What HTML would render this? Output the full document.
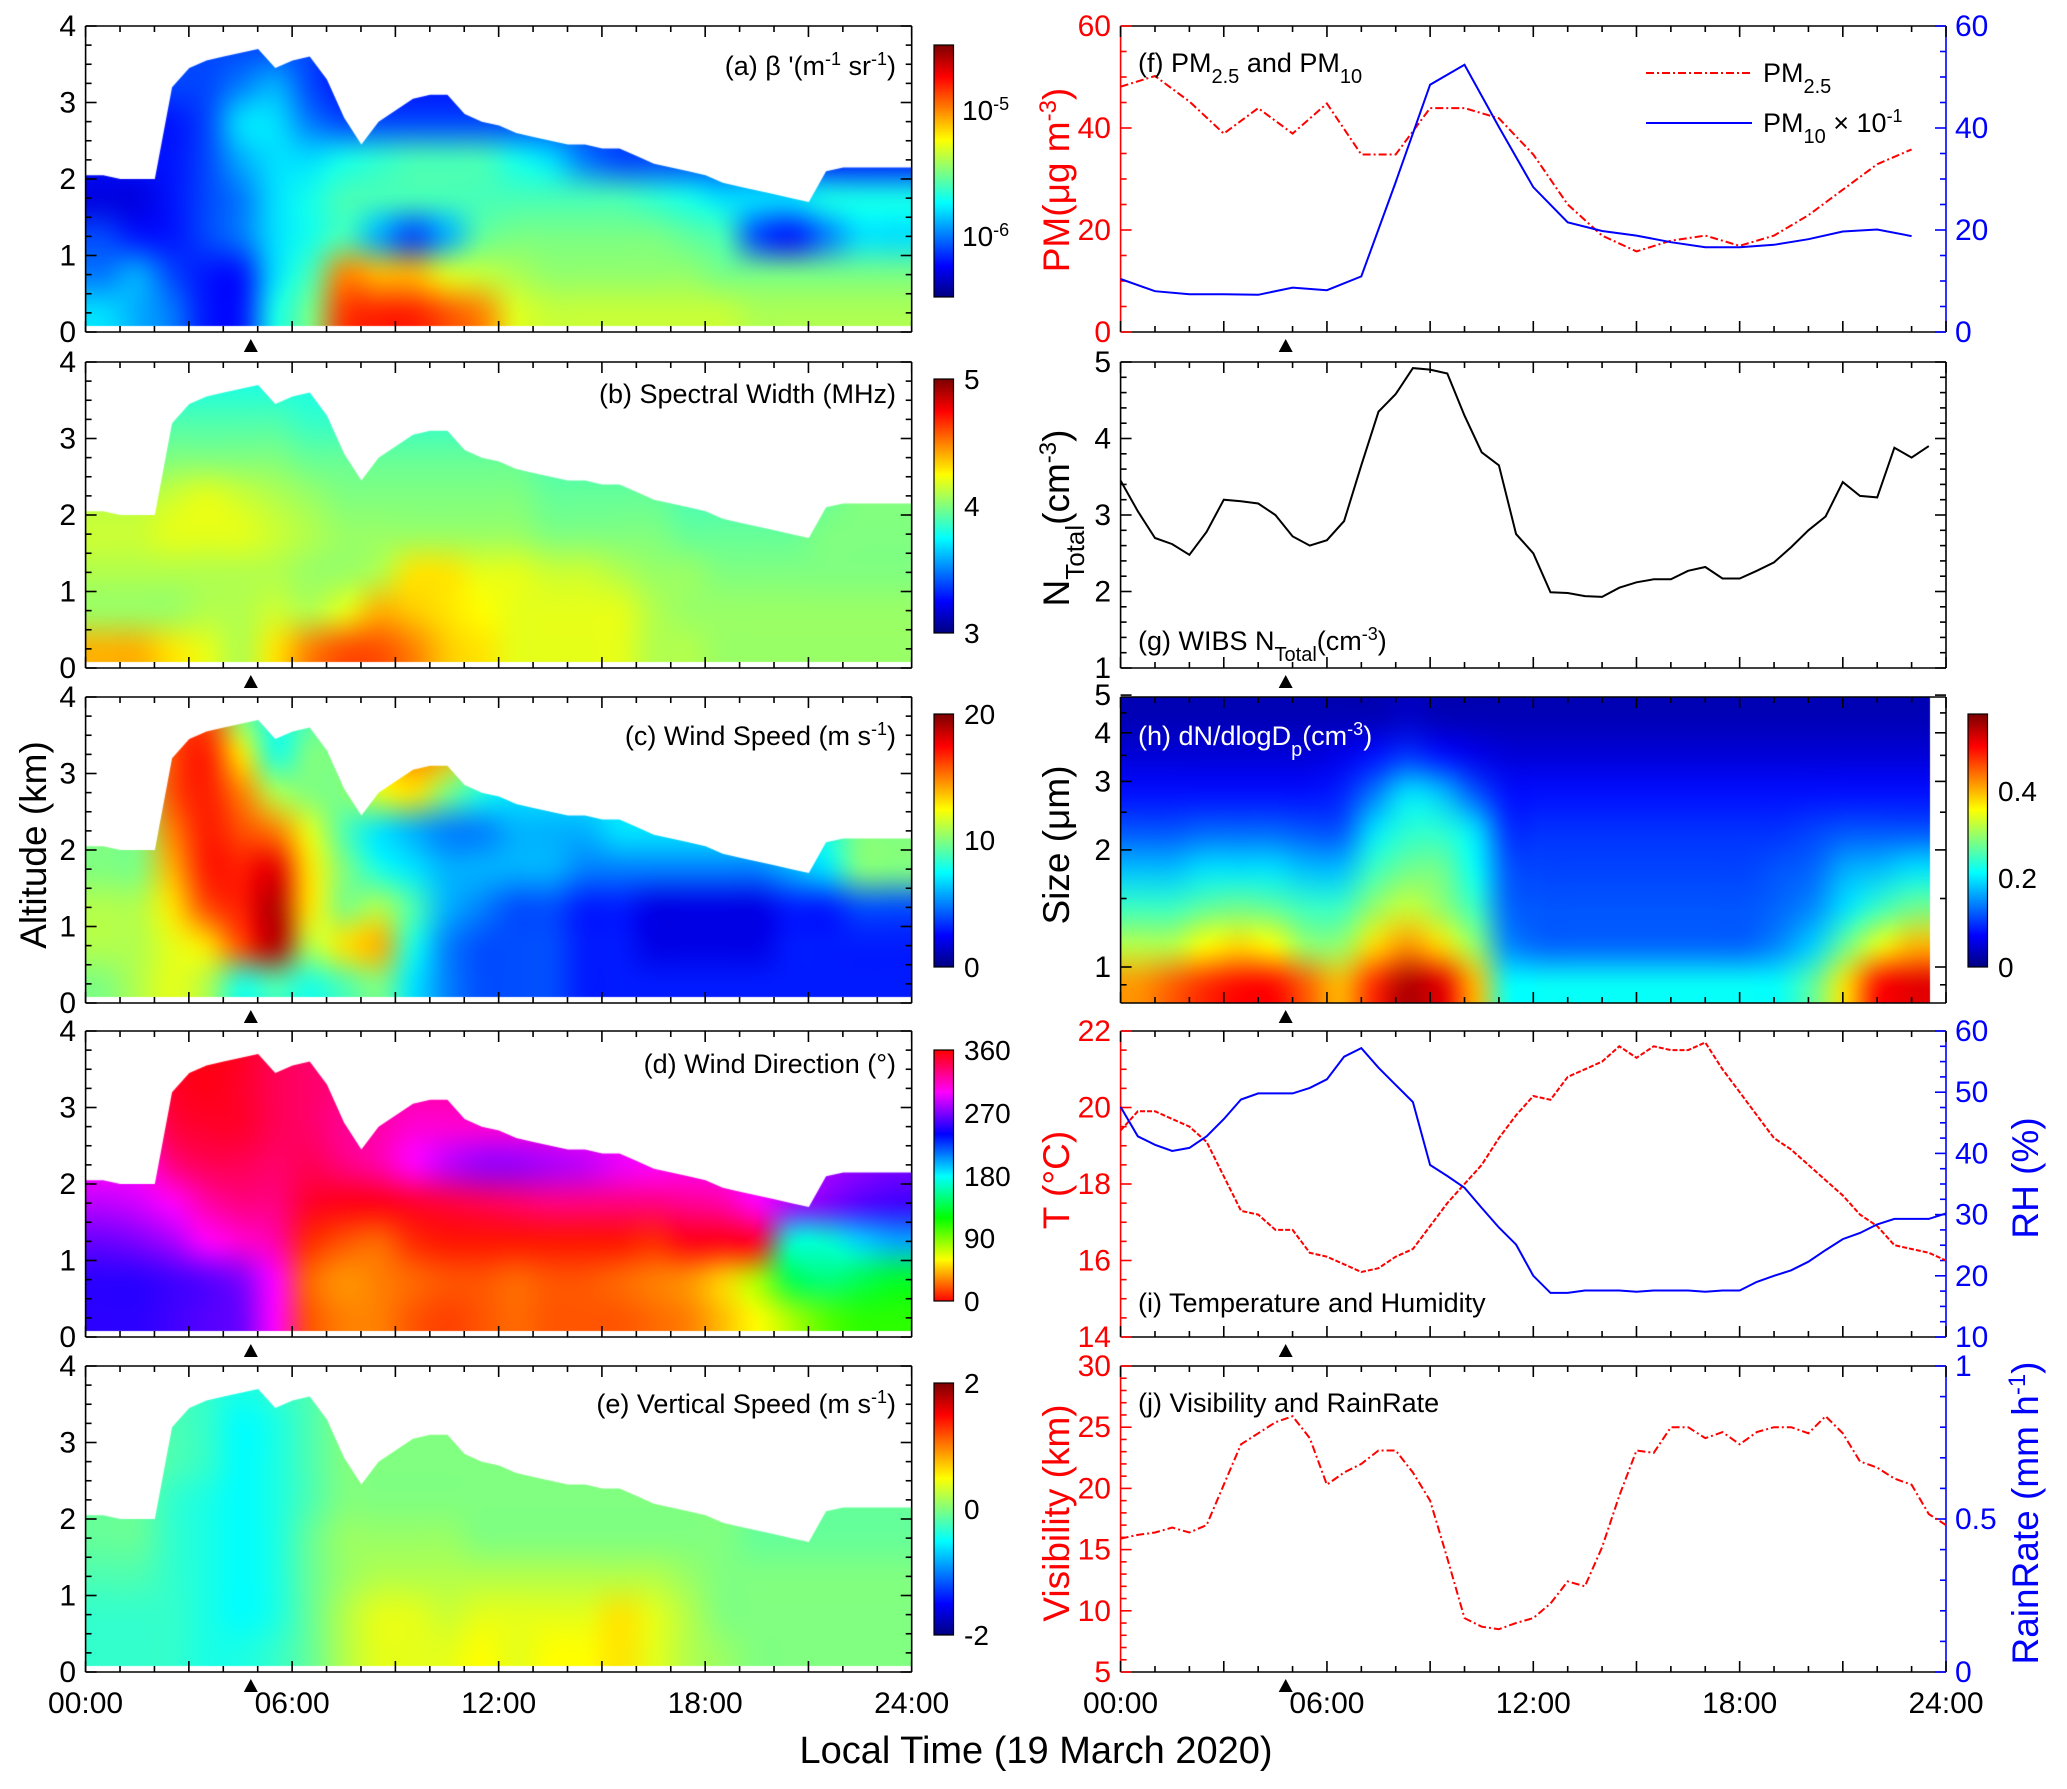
<!DOCTYPE html>
<html><head><meta charset="utf-8"><style>
body{margin:0;width:2067px;height:1789px;background:#fff;position:relative;overflow:hidden;font-family:"Liberation Sans",Arial,sans-serif}
canvas{position:absolute}
svg{position:absolute;left:0;top:0}
text{font-family:"Liberation Sans",Arial,sans-serif}
</style></head><body>
<svg id="ov" width="2067" height="1789">
<g id="marks"></g>
<g font-size="27" fill="#000">
<text x="896" y="75" text-anchor="end">(a) β '(m<tspan baseline-shift="super" font-size="18">-1</tspan> sr<tspan baseline-shift="super" font-size="18">-1</tspan>)</text>
<text x="896" y="403" text-anchor="end">(b) Spectral Width (MHz)</text>
<text x="896" y="745" text-anchor="end">(c) Wind Speed (m s<tspan baseline-shift="super" font-size="18">-1</tspan>)</text>
<text x="896" y="1073" text-anchor="end">(d) Wind Direction (°)</text>
<text x="896" y="1413" text-anchor="end">(e) Vertical Speed (m s<tspan baseline-shift="super" font-size="18">-1</tspan>)</text>
<text x="1138" y="72">(f) PM<tspan baseline-shift="sub" font-size="20">2.5</tspan> and PM<tspan baseline-shift="sub" font-size="20">10</tspan></text>
<text x="1138" y="650">(g) WIBS N<tspan baseline-shift="sub" font-size="20">Total</tspan>(cm<tspan baseline-shift="super" font-size="18">-3</tspan>)</text>
<text x="1138" y="745" fill="#fff">(h) dN/dlogD<tspan baseline-shift="sub" font-size="20">p</tspan>(cm<tspan baseline-shift="super" font-size="18">-3</tspan>)</text>
<text x="1138" y="1312">(i) Temperature and Humidity</text>
<text x="1138" y="1412">(j) Visibility and RainRate</text>
<text x="1763" y="82">PM<tspan baseline-shift="sub" font-size="20">2.5</tspan></text>
<text x="1763" y="132">PM<tspan baseline-shift="sub" font-size="20">10</tspan> × 10<tspan baseline-shift="super" font-size="18">-1</tspan></text>
</g>
<line x1="1646" y1="73" x2="1752" y2="73" stroke="#f00" stroke-width="2" stroke-dasharray="8,3,2,3"/>
<line x1="1646" y1="123" x2="1752" y2="123" stroke="#00f" stroke-width="2"/>
<g font-size="37">
<text transform="translate(46,845) rotate(-90)" text-anchor="middle">Altitude (km)</text>
<text transform="translate(1069,180) rotate(-90)" text-anchor="middle" fill="#f00">PM(μg m<tspan baseline-shift="super" font-size="24">-3</tspan>)</text>
<text transform="translate(1069,518) rotate(-90)" text-anchor="middle">N<tspan baseline-shift="sub" font-size="26">Total</tspan>(cm<tspan baseline-shift="super" font-size="24">-3</tspan>)</text>
<text transform="translate(1069,845) rotate(-90)" text-anchor="middle">Size (μm)</text>
<text transform="translate(1069,1180) rotate(-90)" text-anchor="middle" fill="#f00">T (°C)</text>
<text transform="translate(1069,1513) rotate(-90)" text-anchor="middle" fill="#f00">Visibility (km)</text>
<text transform="translate(2038,1178) rotate(-90)" text-anchor="middle" fill="#00f">RH (%)</text>
<text transform="translate(2038,1513) rotate(-90)" text-anchor="middle" fill="#00f">RainRate (mm h<tspan baseline-shift="super" font-size="24">-1</tspan>)</text>
<text x="1036" y="1763" text-anchor="middle" font-size="38">Local Time (19 March 2020)</text>
</g>
</svg>
<script>
// ---------- data ----------
const hoursHalf = Array.from({length:49},(_,i)=>i*0.5);
const cloudTop = [2.05,2.05,2.0,2.0,2.0,3.2,3.45,3.55,3.6,3.65,3.7,3.45,3.55,3.6,3.3,2.8,2.45,2.75,2.9,3.05,3.1,3.1,2.85,2.75,2.7,2.6,2.55,2.5,2.45,2.45,2.4,2.4,2.3,2.2,2.15,2.1,2.05,1.95,1.9,1.85,1.8,1.75,1.7,2.1,2.15,2.15,2.15,2.15,2.15];
const betaRows = [
[-5.8,-5.9,-6.0,-6.2,-6.2,-5.7,-5.5,-4.85,-4.8,-4.8,-4.9,-5.0,-5.3,-5.35,-5.35,-5.35,-5.35,-5.35,-5.35,-5.4,-5.4,-5.4,-5.4,-5.4],
[-6.0,-5.9,-6.1,-6.2,-6.2,-5.8,-5.6,-5.0,-5.1,-5.1,-5.3,-5.35,-5.4,-5.45,-5.45,-5.45,-5.45,-5.45,-5.5,-5.5,-5.5,-5.5,-5.5,-5.5],
[-6.1,-6.2,-6.2,-6.1,-6.0,-5.8,-5.7,-5.6,-5.9,-6.1,-5.9,-5.55,-5.5,-5.5,-5.5,-5.5,-5.5,-5.55,-5.6,-6.1,-6.2,-6.0,-5.8,-5.8],
[-6.3,-6.3,-6.2,-6.1,-6.0,-5.8,-5.7,-5.6,-5.6,-5.6,-5.6,-5.6,-5.6,-5.6,-5.6,-5.6,-5.65,-5.7,-5.8,-5.8,-5.8,-5.7,-5.7,-5.7],
[-6.2,-6.2,-6.2,-6.1,-5.9,-5.8,-5.8,-5.7,-5.65,-5.6,-5.6,-5.6,-5.7,-5.8,-6.0,-6.1,-6.1,-6.1,-6.1,-6.1,-6.1,-6.2,-6.2,-6.2],
[-6.2,-6.2,-6.2,-6.1,-5.8,-5.8,-6.0,-6.1,-6.1,-6.1,-6.1,-6.1,-6.1,-6.1,-6.1,-6.1,-6.1,-6.1,-6.1,-6.1,-6.1,-6.2,-6.2,-6.2],
[-6.1,-6.1,-6.1,-6.1,-6.0,-5.9,-6.1,-6.2,-6.2,-6.2,-6.2,-6.2,-6.2,-6.2,-6.2,-6.2,-6.2,-6.2,-6.2,-6.2,-6.2,-6.2,-6.2,-6.2],
[-6.1,-6.1,-6.1,-6.1,-6.1,-6.1,-6.1,-6.2,-6.2,-6.2,-6.2,-6.2,-6.2,-6.2,-6.2,-6.2,-6.2,-6.2,-6.2,-6.2,-6.2,-6.2,-6.2,-6.2]];
const widthRows = [
[4.4,4.4,4.3,4.2,4.1,4.3,4.5,4.6,4.6,4.5,4.35,4.3,4.2,4.2,4.2,4.2,4.1,4.1,4.05,4.05,4.05,4.05,4.05,4.05],
[4.05,4.05,4.05,4.1,4.1,4.15,4.1,4.2,4.4,4.35,4.3,4.25,4.2,4.2,4.2,4.2,4.1,4.05,4.05,4.05,4.05,4.05,4.05,4.05],
[4.1,4.1,4.1,4.1,4.1,4.1,4.05,4.05,4.1,4.3,4.3,4.2,4.2,4.15,4.15,4.1,4.05,4.05,4.0,4.0,4.0,4.0,4.0,4.0],
[4.15,4.15,4.2,4.2,4.2,4.15,4.1,4.05,4.05,4.05,4.05,4.05,4.05,4.0,4.0,4.0,4.0,3.95,3.95,3.95,3.95,4.0,4.0,4.0],
[4.1,4.1,4.15,4.2,4.15,4.1,4.05,4.0,4.0,4.0,4.0,4.0,4.0,3.95,3.95,3.95,3.95,3.9,3.9,3.9,3.9,3.95,4.0,4.0],
[3.95,3.95,4.0,4.0,4.0,4.0,3.95,3.95,3.95,3.95,3.95,3.95,3.95,3.9,3.9,3.9,3.9,3.9,3.9,3.9,3.9,3.9,3.9,3.9],
[3.9,3.9,3.9,3.9,3.9,3.9,3.85,3.85,3.85,3.85,3.85,3.85,3.85,3.85,3.85,3.85,3.85,3.85,3.85,3.85,3.85,3.85,3.85,3.85],
[3.8,3.8,3.8,3.8,3.8,3.8,3.8,3.8,3.8,3.8,3.8,3.8,3.8,3.8,3.8,3.8,3.8,3.8,3.8,3.8,3.8,3.8,3.8,3.8]];
const speedRows = [
[10,11,12,11,8,9,8,9,10,7,5,4,4,4,3,3,3,3,3,3,3,3,3,3],
[11,11,12,13,16,19,11,13,14,8,5,4,4,4,3,3,2,2,2,2,3,3,3,3],
[11,11,13,16,17,19,13,10,11,9,6,5,4,4,3,3,2,2,2,2,3,3,4,4],
[10,10,14,17,17,18,13,10,8,7,6,6,6,6,5,5,5,5,5,5,6,7,10,10],
[10,10,15,17,16,15,12,9,7,6,5,5,6,6,6,7,7,7,7,7,7,8,10,10],
[10,10,16,17,15,11,10,10,12,13,10,8,7,7,7,7,7,7,7,7,7,8,10,10],
[10,10,16,17,13,8,10,10,13,15,14,10,8,8,8,8,8,8,8,8,8,8,10,10],
[10,10,16,16,10,8,9,10,13,15,14,10,8,8,8,8,8,8,8,8,8,8,10,10]];
const dirRows = [
[250,250,255,260,265,300,20,30,30,20,15,20,25,20,20,20,25,30,45,60,80,100,110,110],
[250,250,255,260,270,300,25,35,30,25,20,20,25,20,20,25,30,35,50,80,140,150,140,130],
[265,270,280,300,310,320,10,20,25,10,5,5,5,5,5,5,10,355,355,350,170,170,190,200],
[285,290,300,320,330,330,350,355,355,350,345,340,335,330,330,330,330,325,320,300,280,270,260,255],
[300,300,330,340,340,335,340,330,320,300,285,275,275,280,285,295,300,305,305,300,290,280,275,270],
[320,320,345,350,350,340,335,325,320,310,310,310,310,310,310,310,310,310,310,305,300,295,290,290],
[330,330,350,355,350,340,335,330,325,320,320,320,320,320,320,320,320,320,320,320,320,320,320,320],
[340,340,352,355,352,340,335,330,325,320,320,320,320,320,320,320,320,320,320,320,320,320,320,320]];
const vertRows = [
[-0.3,-0.3,-0.3,-0.4,-0.4,-0.3,-0.1,0.2,0.4,0.4,0.4,0.5,0.4,0.5,0.5,0.6,0.4,0.2,0.1,0,0,0,0,0],
[-0.3,-0.3,-0.3,-0.4,-0.5,-0.4,-0.1,0.2,0.4,0.4,0.3,0.4,0.4,0.4,0.4,0.6,0.4,0.2,0,0,0,0,0,0],
[-0.2,-0.2,-0.3,-0.4,-0.5,-0.4,-0.1,0.1,0.2,0.2,0.2,0.2,0.2,0.2,0.2,0.2,0.2,0.1,0,0,0,0,0,0],
[-0.1,-0.1,-0.3,-0.4,-0.5,-0.4,-0.1,0.1,0.1,0.1,0.1,0,0,0,0,0,0,0,0,-0.1,-0.1,-0.1,-0.1,-0.1],
[-0.1,-0.1,-0.3,-0.4,-0.5,-0.4,-0.2,0,0,0,0,0,0,0,0,0,0,0,0,-0.1,-0.1,-0.1,-0.1,-0.1],
[-0.1,-0.1,-0.2,-0.3,-0.5,-0.4,-0.2,0,0,0,0,0,0,0,0,0,0,0,0,0,0,0,0,0],
[-0.1,-0.1,-0.2,-0.3,-0.5,-0.4,-0.2,0,0,0,0,0,0,0,0,0,0,0,0,0,0,0,0,0],
[-0.1,-0.1,-0.2,-0.3,-0.4,-0.3,-0.2,0,0,0,0,0,0,0,0,0,0,0,0,0,0,0,0,0]];
const sizeRows = [
[0.42,0.45,0.48,0.5,0.5,0.45,0.4,0.48,0.55,0.52,0.4,0.22,0.22,0.22,0.22,0.22,0.22,0.22,0.22,0.22,0.27,0.38,0.5,0.52],
[0.32,0.32,0.36,0.38,0.36,0.3,0.3,0.38,0.42,0.38,0.3,0.15,0.13,0.13,0.13,0.13,0.13,0.13,0.13,0.15,0.19,0.28,0.35,0.4],
[0.25,0.25,0.27,0.28,0.27,0.25,0.25,0.3,0.33,0.3,0.25,0.13,0.12,0.12,0.12,0.12,0.12,0.12,0.12,0.13,0.15,0.2,0.25,0.28],
[0.18,0.18,0.2,0.2,0.2,0.18,0.18,0.25,0.28,0.28,0.22,0.12,0.11,0.11,0.11,0.11,0.11,0.11,0.11,0.12,0.13,0.17,0.18,0.2],
[0.12,0.12,0.13,0.13,0.13,0.12,0.12,0.2,0.24,0.24,0.2,0.1,0.1,0.1,0.1,0.1,0.1,0.1,0.1,0.1,0.11,0.12,0.12,0.12],
[0.08,0.08,0.08,0.08,0.08,0.08,0.09,0.14,0.2,0.18,0.12,0.08,0.08,0.08,0.08,0.08,0.08,0.08,0.08,0.08,0.08,0.08,0.08,0.08],
[0.05,0.05,0.05,0.05,0.05,0.05,0.06,0.08,0.1,0.08,0.06,0.05,0.05,0.05,0.05,0.05,0.05,0.05,0.05,0.05,0.05,0.05,0.05,0.05],
[0.03,0.03,0.03,0.03,0.03,0.03,0.03,0.03,0.04,0.03,0.03,0.03,0.03,0.03,0.03,0.03,0.03,0.03,0.03,0.03,0.03,0.03,0.03,0.03]];
const pm25 = [48.1,50.2,45.2,38.9,43.9,38.9,44.8,34.8,34.8,43.9,43.9,41.9,34.8,25,18.9,15.8,17.9,18.9,16.9,18.9,22.9,27.9,32.9,35.8];
const pm10 = [10.4,8,7.4,7.4,7.3,8.7,8.2,10.9,29.4,48.5,52.4,40.2,28.4,21.5,19.8,18.9,17.6,16.6,16.6,17.1,18.2,19.7,20.1,18.8];
const ntotal = [3.45,3.05,2.7,2.62,2.48,2.78,3.2,3.18,3.15,3.0,2.72,2.6,2.67,2.92,3.65,4.35,4.58,4.92,4.9,4.85,4.3,3.82,3.65,2.75,2.5,1.99,1.98,1.94,1.93,2.05,2.12,2.16,2.16,2.27,2.32,2.17,2.17,2.27,2.38,2.58,2.8,2.98,3.43,3.25,3.23,3.88,3.75,3.9];
const temp = [19.4,19.9,19.9,19.7,19.5,19.1,18.2,17.3,17.2,16.8,16.8,16.2,16.1,15.9,15.7,15.8,16.1,16.3,16.9,17.5,18.0,18.5,19.2,19.8,20.3,20.2,20.8,21.0,21.2,21.6,21.3,21.6,21.5,21.5,21.7,21.0,20.4,19.8,19.2,18.9,18.5,18.1,17.7,17.2,16.9,16.4,16.3,16.2,16.0];
const rh = [47.6,42.8,41.4,40.4,40.9,42.8,45.6,48.8,49.8,49.8,49.8,50.7,52.1,55.8,57.2,54,51.2,48.4,38.1,36.3,34.4,31.1,27.9,25.1,20,17.2,17.2,17.6,17.6,17.6,17.4,17.6,17.6,17.6,17.4,17.6,17.6,19,20,20.9,22.3,24.2,26,27,28.4,29.3,29.3,29.3,30.2];
const vis = [15.9,16.2,16.4,16.8,16.4,17.0,20.3,23.6,24.5,25.4,25.9,24.1,20.3,21.3,22,23.1,23.1,21.3,19.0,14.3,9.4,8.7,8.5,9.0,9.4,10.6,12.4,12,15.2,19.4,23.1,22.9,25,25,24.1,24.6,23.6,24.6,25,25,24.5,25.9,24.5,22.2,21.7,20.8,20.3,17.9,17.0];
const timeTicks = ["00:00","06:00","12:00","18:00","24:00"];
const eventHour = 4.8;

// ---------- layout ----------
const tops=[26,362,697,1031,1366], PH=306;
const LX0=85.6, LX1=911.7, RX0=1120.6, RX1=1946;
const xL=t=>LX0+t*(LX1-LX0)/24, xR=t=>RX0+t*(RX1-RX0)/24;
const NS='http://www.w3.org/2000/svg';
const marks=document.getElementById('marks');
function mk(tag,attrs,name){const e=document.createElementNS(NS,tag);for(const k in attrs)e.setAttribute(k,attrs[k]);


marks.appendChild(e);return e;}
function ln(x1,y1,x2,y2,c,name,w){return mk('line',{x1,y1,x2,y2,stroke:c,'stroke-width':w||1.6},name);}
function tx(x,y,s,anchor,c,size,name){const e=mk('text',{x,y,'text-anchor':anchor,fill:c,'font-size':size},name);e.textContent=s;return e;}

function jet(f){f=Math.max(0,Math.min(1,f));const cl=v=>Math.max(0,Math.min(1,v));
return [cl(1.5-Math.abs(4*f-3))*255,cl(1.5-Math.abs(4*f-2))*255,cl(1.5-Math.abs(4*f-1))*255];}
function hue(v){const h=((v%360)+360)%360/60;const x=1-Math.abs(h%2-1);let r,g,b;
if(h<1)[r,g,b]=[1,x,0];else if(h<2)[r,g,b]=[x,1,0];else if(h<3)[r,g,b]=[0,1,x];else if(h<4)[r,g,b]=[0,x,1];else if(h<5)[r,g,b]=[x,0,1];else[r,g,b]=[1,0,x];
return [r*255,g*255,b*255];}

function makeCanvas(name,x,y,w,h){const c=document.createElement('canvas');c.width=Math.round(w);c.height=Math.round(h);
c.style.left=x+'px';c.style.top=y+'px';


document.body.insertBefore(c,document.getElementById('ov'));return c;}

function heat(name,x0,x1,top,rows,colorFn,destX1,masked){
  const w=x1-x0;const c=makeCanvas(name,x0,top,w,PH);const ctx=c.getContext('2d');
  const R=rows.length,C=rows[0].length;const sm=document.createElement('canvas');sm.width=C;sm.height=R;
  const sctx=sm.getContext('2d');const img=sctx.createImageData(C,R);
  for(let r=0;r<R;r++)for(let j=0;j<C;j++){const col=colorFn(rows[r][j]);const k=((R-1-r)*C+j)*4;
    img.data[k]=col[0];img.data[k+1]=col[1];img.data[k+2]=col[2];img.data[k+3]=255;}
  sctx.putImageData(img,0,0);ctx.imageSmoothingEnabled=true;ctx.imageSmoothingQuality='high';
  ctx.drawImage(sm,0,0,C,R,0,0,destX1,PH);
  if(masked){const yA=v=>PH-v/4*PH;ctx.globalCompositeOperation='destination-in';ctx.beginPath();
    hoursHalf.forEach((t,i)=>{const px=t/24*w,py=yA(cloudTop[i]);if(i==0)ctx.moveTo(px,py);else ctx.lineTo(px,py);});
    ctx.lineTo(w,yA(0.08));ctx.lineTo(0,yA(0.08));ctx.closePath();ctx.fill();ctx.globalCompositeOperation='source-over';}
}
function cbar(name,x,y0,y1,fn){const c=makeCanvas(name,x,y0,19.5,y1-y0);const ctx=c.getContext('2d');const h=y1-y0;
  for(let i=0;i<h;i++){const col=fn(1-i/h);ctx.fillStyle=`rgb(${col[0]|0},${col[1]|0},${col[2]|0})`;ctx.fillRect(0,i,20,1.2);}
  mk('rect',{x,y:y0,width:19.5,height:h,fill:'none',stroke:'#000','stroke-width':1.2},name+'-frame');}

heat('heatmap-backscatter',LX0,LX1,tops[0],betaRows,v=>jet((v+6.49)/2),LX1-LX0,true);
heat('heatmap-spectral-width',LX0,LX1,tops[1],widthRows,v=>jet((v-3)/2),LX1-LX0,true);
heat('heatmap-wind-speed',LX0,LX1,tops[2],speedRows,v=>jet(v/20),LX1-LX0,true);
heat('heatmap-wind-direction',LX0,LX1,tops[3],dirRows,v=>hue(v),LX1-LX0,true);
heat('heatmap-vertical-speed',LX0,LX1,tops[4],vertRows,v=>jet((v+2)/4),LX1-LX0,true);
heat('heatmap-size-distribution',RX0,RX1,tops[2],sizeRows,v=>jet(v/0.577),xR(23.53)-RX0,false);

cbar('colorbar-backscatter',934,45,297,jet);
cbar('colorbar-spectral-width',934,379,633,jet);
cbar('colorbar-wind-speed',934,714,967,jet);
cbar('colorbar-wind-direction',934,1050,1301,f=>hue(f*360));
cbar('colorbar-vertical-speed',934,1383,1635,jet);
cbar('colorbar-size',1968,714,967,jet);
const e5=tx(962,120,'10','start','#000',28,'colorbar-label-1e-5');const s5=document.createElementNS(NS,'tspan');s5.setAttribute('baseline-shift','super');s5.setAttribute('font-size','18');s5.textContent='-5';e5.appendChild(s5);
const e6=tx(962,246,'10','start','#000',28,'colorbar-label-1e-6');const s6=document.createElementNS(NS,'tspan');s6.setAttribute('baseline-shift','super');s6.setAttribute('font-size','18');s6.textContent='-6';e6.appendChild(s6);
[['5',379],['4',506],['3',633]].forEach(a=>tx(964,a[1]+10,a[0],'start','#000',28,'colorbar-b-label'));
[['20',714],['10',840],['0',967]].forEach(a=>tx(964,a[1]+10,a[0],'start','#000',28,'colorbar-c-label'));
[['360',1050],['270',1113],['180',1176],['90',1238],['0',1301]].forEach(a=>tx(964,a[1]+10,a[0],'start','#000',28,'colorbar-d-label'));
[['2',1383],['0',1509],['-2',1635]].forEach(a=>tx(964,a[1]+10,a[0],'start','#000',28,'colorbar-e-label'));
[['0.4',791],['0.2',878],['0',967]].forEach(a=>tx(1998,a[1]+10,a[0],'start','#000',28,'colorbar-h-label'));

function frame(x0,x1,top,opt){const bot=top+PH;
  const cl=opt.lc||'#000',cr=opt.rc||'#000';
  ln(x0,top,x1,top,'#000','frame-top');ln(x0,bot,x1,bot,'#000','frame-bottom');
  ln(x0,top,x0,bot,cl,'y-axis-left');ln(x1,top,x1,bot,cr,'y-axis-right');
  for(let h=0;h<=24;h++){const x=x0+h*(x1-x0)/24;const L=h%3==0?11:6;
    ln(x,bot,x,bot-L,'#000','x-tick');ln(x,top,x,top+L,'#000','x-tick-top');}
  const tx0=x0+eventHour*(x1-x0)/24;
  mk('polygon',{points:`${tx0-7},${bot+20} ${tx0+7},${bot+20} ${tx0},${bot+7}`,fill:'#000'},'event-marker');
}
function yticks(x0,x1,top,ymin,ymax,major,minor,side,col,labels,labelX,anchor,mapFn){
  const yy=mapFn||(v=>top+PH-(v-ymin)/(ymax-ymin)*PH);
  const n=Math.round((ymax-ymin)/minor);
  for(let i=0;i<=n;i++){const v=ymin+i*minor;const isM=Math.abs(v/major-Math.round(v/major))<1e-6;const L=isM?11:6;const y=yy(v);
    if(side!='right')ln(x0,y,x0+L,y,col,'y-tick');
    if(side!='left')ln(x1,y,x1-L,y,col,'y-tick');
    if(isM&&labels)tx(labelX,y+10,labels(v),anchor,col,30,'y-tick-label');}
}
for(let p=0;p<5;p++){frame(LX0,LX1,tops[p],{});
  yticks(LX0,LX1,tops[p],0,4,1,0.25,'both','#000',v=>String(v),76,'end');}
frame(RX0,RX1,tops[0],{lc:'#f00',rc:'#00f'});
yticks(RX0,RX1,tops[0],0,60,20,5,'left','#f00',v=>String(v),1111,'end');
yticks(RX0,RX1,tops[0],0,60,20,5,'right','#00f',v=>String(v),1955,'start');
frame(RX0,RX1,tops[1],{});
yticks(RX0,RX1,tops[1],1,5,1,0.2,'both','#000',v=>String(v),1111,'end');
frame(RX0,RX1,tops[2],{});
const ySize=v=>967-Math.log10(v)*389;
[1,2,3,4,5].forEach(v=>{ln(RX0,ySize(v),RX0+11,ySize(v),'#000','y-tick');ln(RX1,ySize(v),RX1-11,ySize(v),'#000','y-tick');tx(1111,ySize(v)+10,String(v),'end','#000',30,'y-tick-label');});
[0.9,1.5,2.5,3.5,4.5].forEach(v=>{ln(RX0,ySize(v),RX0+6,ySize(v),'#000','y-tick-minor');ln(RX1,ySize(v),RX1-6,ySize(v),'#000','y-tick-minor');});
frame(RX0,RX1,tops[3],{lc:'#f00',rc:'#00f'});
yticks(RX0,RX1,tops[3],14,22,2,0.5,'left','#f00',v=>String(v),1111,'end');
yticks(RX0,RX1,tops[3],10,60,10,2.5,'right','#00f',v=>String(v),1955,'start');
frame(RX0,RX1,tops[4],{lc:'#f00',rc:'#00f'});
yticks(RX0,RX1,tops[4],5,30,5,1,'left','#f00',v=>String(v),1111,'end');
yticks(RX0,RX1,tops[4],0,1,0.5,0.1,'right','#00f',v=>String(v),1955,'start');
timeTicks.forEach((s,i)=>{tx(xL(i*6),1713,s,'middle','#000',30,'x-tick-label-left');tx(xR(i*6),1713,s,'middle','#000',30,'x-tick-label-right');});

function series(vals,dt,ymin,ymax,top,color,dash,name,w){const pts=vals.map((v,i)=>`${xR(i*dt).toFixed(1)},${(top+PH-(v-ymin)/(ymax-ymin)*PH).toFixed(1)}`).join(' ');
  const a={points:pts,fill:'none',stroke:color,'stroke-width':w||2};if(dash)a['stroke-dasharray']=dash;return mk('polyline',a,name);}
series(pm25,1,0,60,tops[0],'#f00','8,3,2,3','pm25-line');
series(pm10,1,0,60,tops[0],'#00f',null,'pm10-line');
series(ntotal,0.5,1,5,tops[1],'#000',null,'ntotal-line');
series(temp,0.5,14,22,tops[3],'#f00','5,2','temperature-line');
series(rh,0.5,10,60,tops[3],'#00f',null,'rh-line');
series(vis,0.5,5,30,tops[4],'#f00','8,3,2,3','visibility-line');
</script>
</body></html>
